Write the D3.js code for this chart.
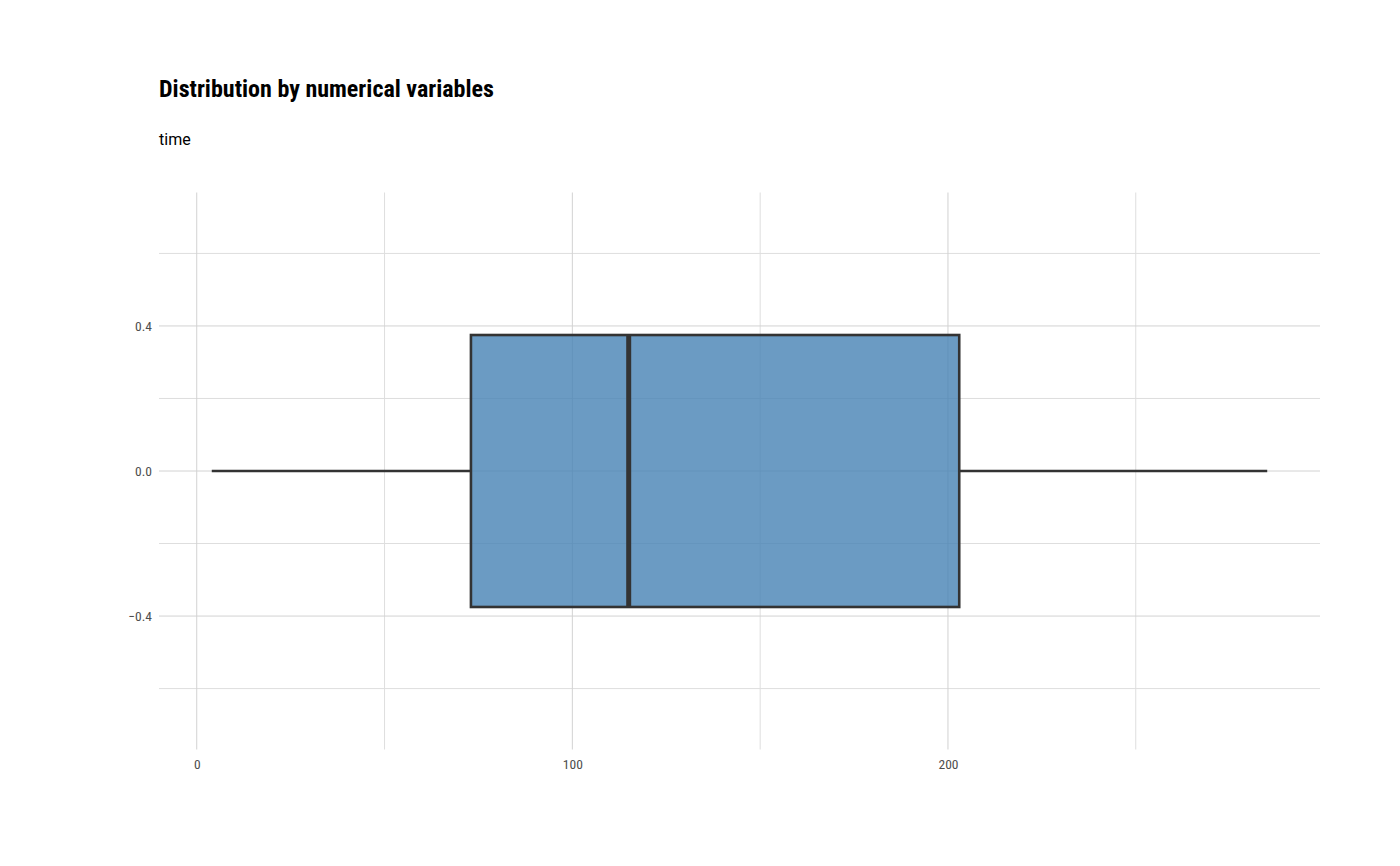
<!DOCTYPE html>
<html>
  <head>
    <meta charset="utf-8" />
    <title>Distribution by numerical variables</title>
    <script src="https://d3js.org/d3.v7.min.js"></script>
    <style>
      body { margin: 0; background: #fff; }
      text { font-family: "Roboto Condensed", "Liberation Sans Narrow", "DejaVu Sans Condensed", Roboto, sans-serif; }
    </style>
  </head>
  <body>
    <svg width="1400" height="866"></svg>

    <script>
      // Data (five-number summary of "time")
      var variable = ["time"];
      var stats = [4, 73, 115, 203, 285]; // min, q1, median, q3, max
      var xTicks = [0, 100, 200];
      var xMinor = [50, 150, 250];
      var yTicks = [-0.4, 0.0, 0.4];
      var yMinor = [-0.6, -0.2, 0.2, 0.6];

      var svg = d3.select("svg");

      var margin = { top: 192.5, right: 80, bottom: 116.5, left: 159 },
        width = +svg.attr("width") - margin.left - margin.right,
        height = +svg.attr("height") - margin.top - margin.bottom;

      // ggplot-like 5% expansion on x
      var span = stats[4] - stats[0];
      var x = d3.scaleLinear()
        .domain([stats[0] - span * 0.05, stats[4] + span * 0.05])
        .range([0, width]);
      var y = d3.scaleLinear().domain([-0.768, 0.768]).range([height, 0]);

      var g = svg.append("g").attr("transform", "translate(" + margin.left + "," + margin.top + ")");

      // minor grid
      g.selectAll(".xminor").data(xMinor).enter().append("line")
        .attr("x1", function (d) { return x(d); }).attr("x2", function (d) { return x(d); })
        .attr("y1", 0).attr("y2", height)
        .attr("stroke", "#dedede").attr("stroke-width", 1);
      g.selectAll(".yminor").data(yMinor).enter().append("line")
        .attr("y1", function (d) { return y(d); }).attr("y2", function (d) { return y(d); })
        .attr("x1", 0).attr("x2", width)
        .attr("stroke", "#dedede").attr("stroke-width", 1);

      // major grid
      g.selectAll(".xmajor").data(xTicks).enter().append("line")
        .attr("x1", function (d) { return x(d); }).attr("x2", function (d) { return x(d); })
        .attr("y1", 0).attr("y2", height)
        .attr("stroke", "#d2d2d2").attr("stroke-width", 1);
      g.selectAll(".ymajor").data(yTicks).enter().append("line")
        .attr("y1", function (d) { return y(d); }).attr("y2", function (d) { return y(d); })
        .attr("x1", 0).attr("x2", width)
        .attr("stroke", "#d2d2d2").attr("stroke-width", 1);

      // axes (labels only)
      var xAxis = g.append("g")
        .attr("transform", "translate(0," + height + ")")
        .call(d3.axisBottom(x).tickValues(xTicks).tickFormat(d3.format("d")).tickSize(0).tickPadding(10));
      var yAxis = g.append("g")
        .call(d3.axisLeft(y).tickValues(yTicks).tickFormat(d3.format(".1f")).tickSize(0).tickPadding(7));
      [xAxis, yAxis].forEach(function (a) {
        a.select(".domain").remove();
        a.selectAll("text")
          .style("font-size", "13.5px")
          .style("fill", "#4d4d4d")
          .style("font-family", '"Roboto Condensed", "Liberation Sans Narrow", "DejaVu Sans Condensed", Roboto, sans-serif');
      });

      // whiskers
      g.append("line")
        .attr("x1", x(stats[0])).attr("x2", x(stats[1]))
        .attr("y1", y(0)).attr("y2", y(0))
        .attr("stroke", "#333333").attr("stroke-width", 2.5);
      g.append("line")
        .attr("x1", x(stats[3])).attr("x2", x(stats[4]))
        .attr("y1", y(0)).attr("y2", y(0))
        .attr("stroke", "#333333").attr("stroke-width", 2.5);

      // box
      g.selectAll(".box").data(variable).enter().append("rect")
        .attr("x", x(stats[1]))
        .attr("y", y(0.375))
        .attr("width", x(stats[3]) - x(stats[1]))
        .attr("height", y(-0.375) - y(0.375))
        .attr("fill", "steelblue")
        .attr("fill-opacity", 0.8)
        .attr("stroke", "#333333")
        .attr("stroke-width", 2.6);

      // median
      g.append("line")
        .attr("x1", x(stats[2])).attr("x2", x(stats[2]))
        .attr("y1", y(0.375)).attr("y2", y(-0.375))
        .attr("stroke", "#333333").attr("stroke-width", 5);

      // title & subtitle
      svg.append("text")
        .attr("x", 159).attr("y", 97)
        .attr("textLength", 335).attr("lengthAdjust", "spacingAndGlyphs")
        .style("font-size", "24px").style("font-weight", "bold").style("fill", "#000")
        .text("Distribution by numerical variables");
      svg.append("text")
        .attr("x", 159).attr("y", 145)
        .style("font-size", "16px").style("fill", "#000")
        .style("font-family", "Roboto, sans-serif")
        .text(variable[0]);
    </script>
  </body>
</html>
